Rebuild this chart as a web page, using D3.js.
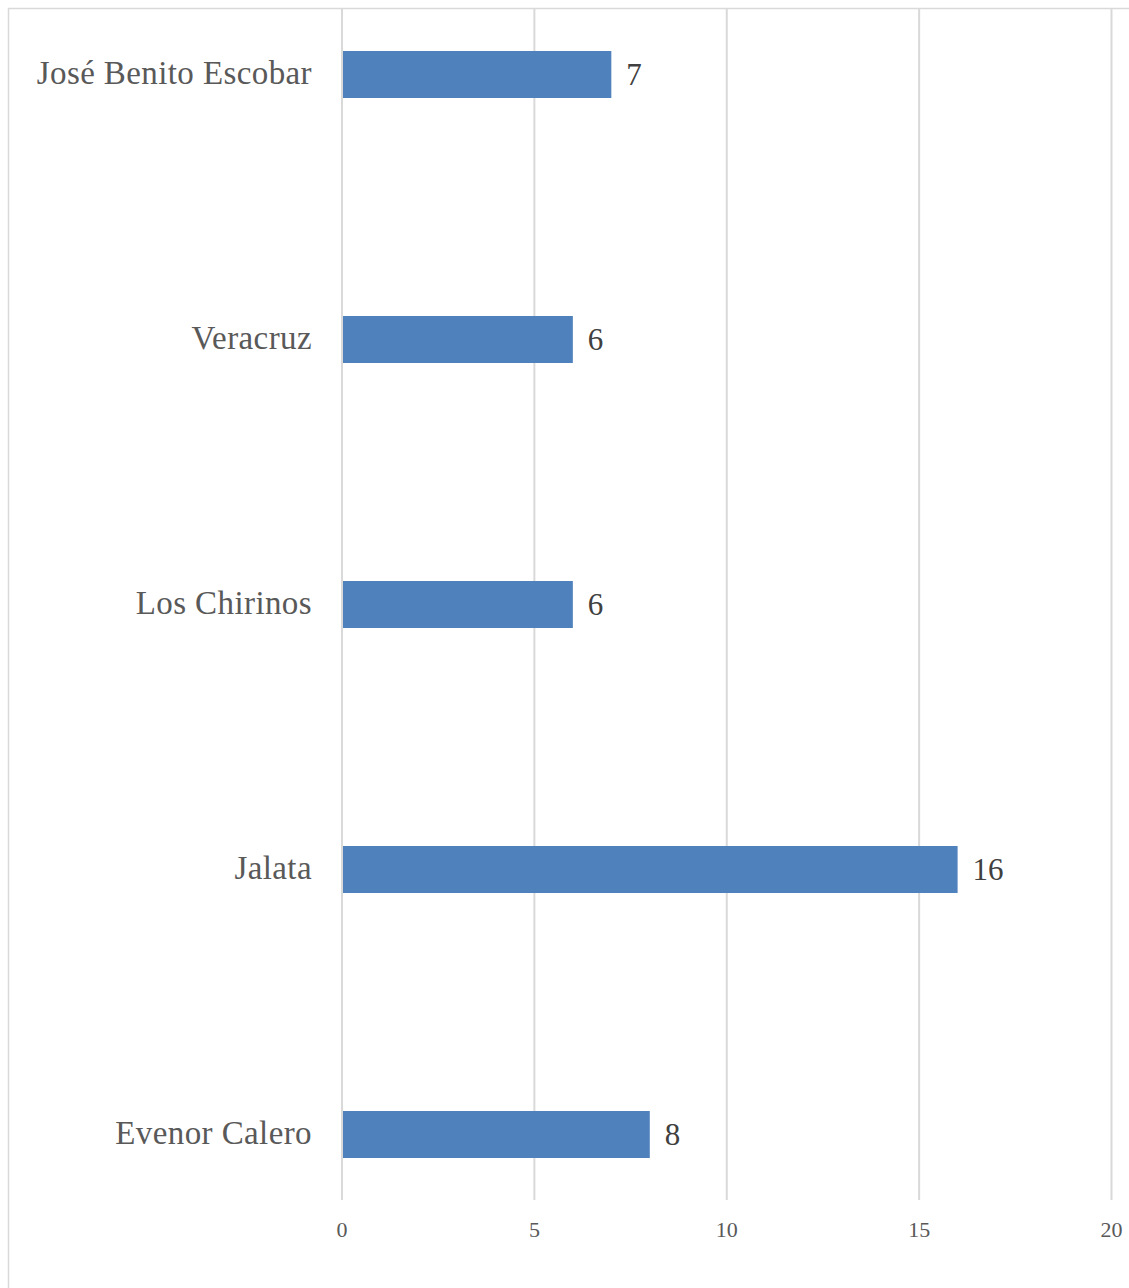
<!DOCTYPE html>
<html>
<head>
<meta charset="utf-8">
<script src="https://cdn.jsdelivr.net/npm/d3@7"></script>
<style>
  body { margin: 0; background: #fff; }
  .chart text { font-family: "Liberation Serif", "Times New Roman", serif; }
</style>
</head>
<body>
<svg class="chart"></svg>
<script>
  // data, top to bottom
  var categories = ["José Benito Escobar", "Veracruz", "Los Chirinos", "Jalata", "Evenor Calero"];
  var values = [7, 6, 6, 16, 8];
  var tickValues = [0, 5, 10, 15, 20];

  var width = 1129, height = 1288;
  var left = 342, right = 1111.5;
  var plotTop = 9, plotBottom = 1200;
  var barH = 47;

  var svg = d3.select(".chart").attr("width", width).attr("height", height);

  // chart border (cropped on right and bottom)
  svg.append("rect")
    .attr("x", 8.5).attr("y", 8.5)
    .attr("width", 1200).attr("height", 1400)
    .attr("fill", "none").attr("stroke", "#d9d9d9").attr("stroke-width", 1.5);

  var x = d3.scaleLinear().domain([0, 20]).range([left, right]);
  var y = d3.scaleBand().domain(categories).range([-58, 1267]);

  // gridlines
  svg.append("g").selectAll("line")
    .data(tickValues)
    .enter().append("line")
      .attr("x1", function(d) { return x(d); })
      .attr("x2", function(d) { return x(d); })
      .attr("y1", plotTop).attr("y2", plotBottom)
      .attr("stroke", "#d9d9d9").attr("stroke-width", 2);

  // tick labels
  svg.append("g").selectAll("text")
    .data(tickValues)
    .enter().append("text")
      .attr("x", function(d) { return x(d); })
      .attr("y", 1237)
      .attr("text-anchor", "middle")
      .attr("font-size", "22px")
      .attr("fill", "#595959")
      .text(function(d) { return d; });

  // bars
  var rows = svg.append("g").selectAll("g")
    .data(values)
    .enter().append("g")
      .attr("transform", function(d, i) { return "translate(0," + (y(categories[i]) + y.bandwidth() / 2) + ")"; });

  rows.append("rect")
    .attr("x", x(0) + 1)
    .attr("y", -barH / 2)
    .attr("width", function(d) { return x(d) - x(0) - 1; })
    .attr("height", barH)
    .attr("fill", "#4f81bd");

  // value labels
  rows.append("text")
    .attr("x", function(d) { return x(d) + 15; })
    .attr("dy", "0.33em")
    .attr("font-size", "31px")
    .attr("fill", "#404040")
    .text(function(d) { return d; });

  // category labels
  rows.append("text")
    .attr("x", left - 30)
    .attr("dy", "0.28em")
    .attr("text-anchor", "end")
    .attr("font-size", "33px")
    .attr("letter-spacing", "0.4px")
    .attr("fill", "#595959")
    .text(function(d, i) { return categories[i]; });
</script>
</body>
</html>
